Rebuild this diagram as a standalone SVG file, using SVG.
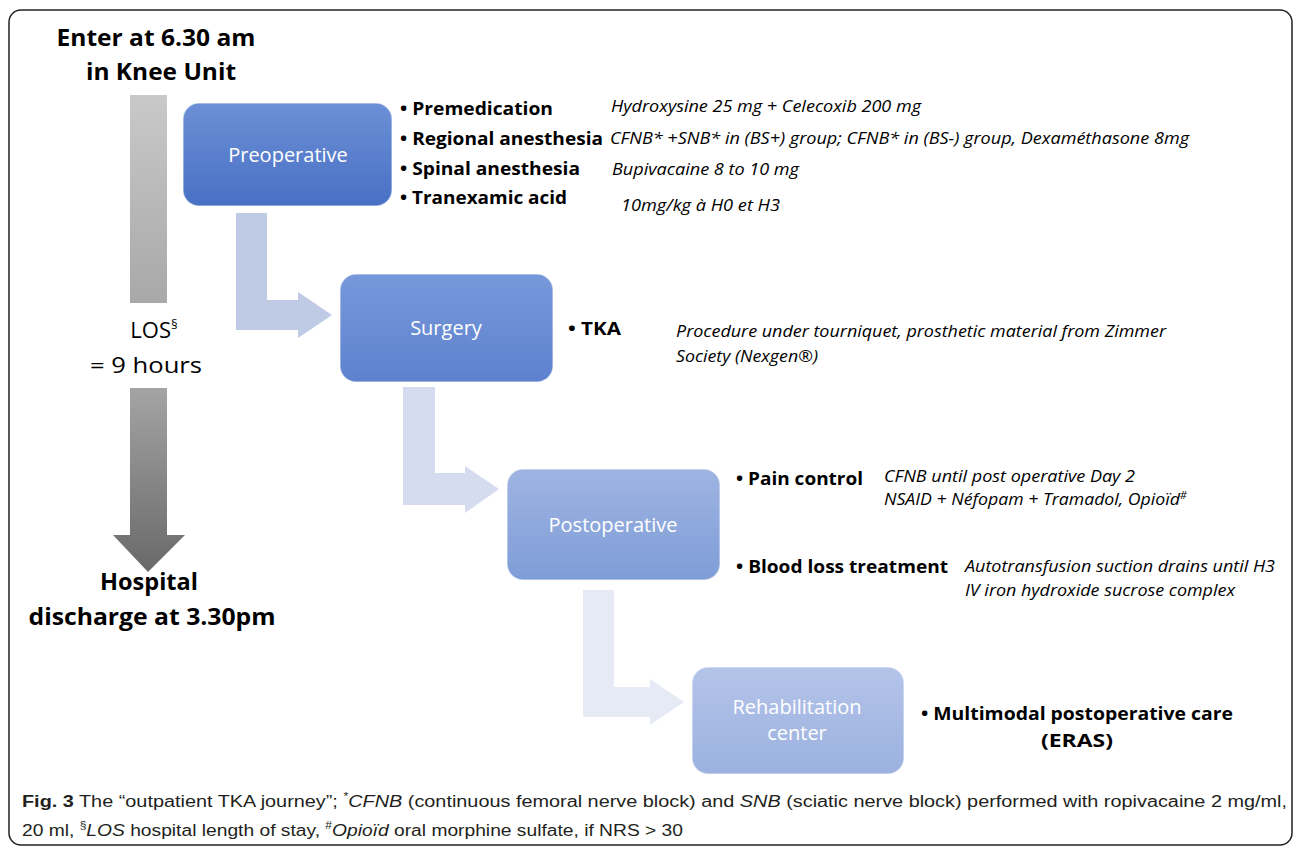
<svg xmlns="http://www.w3.org/2000/svg" width="1293" height="847" viewBox="0 0 1293 847">
<defs>
<linearGradient id="gPre" x1="0" y1="0" x2="0" y2="1"><stop offset="0" stop-color="#6c90d6"/><stop offset="1" stop-color="#4870c4"/></linearGradient>
<linearGradient id="gSur" x1="0" y1="0" x2="0" y2="1"><stop offset="0" stop-color="#7799db"/><stop offset="1" stop-color="#5d81ce"/></linearGradient>
<linearGradient id="gPost" x1="0" y1="0" x2="0" y2="1"><stop offset="0" stop-color="#9fb4e2"/><stop offset="1" stop-color="#7e9dd7"/></linearGradient>
<linearGradient id="gReh" x1="0" y1="0" x2="0" y2="1"><stop offset="0" stop-color="#b4c4e9"/><stop offset="1" stop-color="#9bb1df"/></linearGradient>
<linearGradient id="gBar" x1="0" y1="0" x2="0" y2="1"><stop offset="0" stop-color="#c9c9c9"/><stop offset="1" stop-color="#a8a8a8"/></linearGradient>
<linearGradient id="gDown" x1="0" y1="0" x2="0" y2="1"><stop offset="0" stop-color="#a4a4a4"/><stop offset="1" stop-color="#696969"/></linearGradient>
<style>
.box{stroke:#ffffff;stroke-opacity:0.5;stroke-width:1.5}
.lbl{font-family:"Open Sans","Liberation Sans",sans-serif;font-size:20px;fill:#ffffff;text-anchor:middle}
.ttl{font-family:"Open Sans","Liberation Sans",sans-serif;font-size:24px;font-weight:bold;fill:#000;text-anchor:middle}
.los{font-family:"Open Sans","Liberation Sans",sans-serif;font-size:22px;fill:#000;text-anchor:middle}
.b{font-family:"Open Sans","Liberation Sans",sans-serif;font-size:18px;font-weight:bold;fill:#000}
.i{font-family:"Open Sans","Liberation Sans",sans-serif;font-size:16px;font-style:italic;fill:#000}
.cap{font-family:"Liberation Sans",sans-serif;font-size:16px;fill:#231f20}
</style>
</defs>
<rect x="9" y="10" width="1283" height="835" rx="12" fill="#ffffff" stroke="#222" stroke-width="1.5"/>

<g id="timeline">
<rect x="130" y="95" width="37" height="208" fill="url(#gBar)"/>
<path d="M130,388 H167 V535 H185 L148,572 L113,535 H130 Z" fill="url(#gDown)"/>
<text class="ttl" x="156" y="46" textLength="199" lengthAdjust="spacingAndGlyphs">Enter at 6.30 am</text>
<text class="ttl" x="161" y="80" textLength="150" lengthAdjust="spacingAndGlyphs">in Knee Unit</text>
<text class="los" x="154" y="338">LOS<tspan font-size="13" dy="-9">§</tspan></text>
<text class="los" x="146" y="373" textLength="112" lengthAdjust="spacingAndGlyphs">= 9 hours</text>
<text class="ttl" x="149" y="590" textLength="98" lengthAdjust="spacingAndGlyphs">Hospital</text>
<text class="ttl" x="152" y="625" textLength="247" lengthAdjust="spacingAndGlyphs">discharge at 3.30pm</text>
</g>

<g id="connectors">
<path d="M236,213 H267 V300 H298 V292 L332,315 L298,338 V330 H236 Z" fill="#bfcae4"/>
<path d="M403,387 H435 V473 H465 V466 L499,489 L465,513 V505 H403 Z" fill="#d6dcef"/>
<path d="M583,590 H614 V687 H650 V679 L684,702 L650,725 V717 H583 Z" fill="#e6eaf5"/>
</g>

<g id="preoperative">
<rect class="box" x="183" y="103" width="209" height="103" rx="16" fill="url(#gPre)"/>
<text class="lbl" x="288" y="162">Preoperative</text>
<text class="b" x="400" y="115" textLength="153" lengthAdjust="spacingAndGlyphs">• Premedication</text>
<text class="b" x="400" y="145" textLength="203" lengthAdjust="spacingAndGlyphs">• Regional anesthesia</text>
<text class="b" x="400" y="175" textLength="180" lengthAdjust="spacingAndGlyphs">• Spinal anesthesia</text>
<text class="b" x="400" y="204" textLength="167" lengthAdjust="spacingAndGlyphs">• Tranexamic acid</text>
<text class="i" x="611" y="112" textLength="310" lengthAdjust="spacingAndGlyphs">Hydroxysine 25 mg + Celecoxib 200 mg</text>
<text class="i" x="610" y="144" textLength="579" lengthAdjust="spacingAndGlyphs">CFNB* +SNB* in (BS+) group; CFNB* in (BS-) group, Dexaméthasone 8mg</text>
<text class="i" x="612" y="175" textLength="187" lengthAdjust="spacingAndGlyphs">Bupivacaine 8 to 10 mg</text>
<text class="i" x="621" y="211" textLength="159" lengthAdjust="spacingAndGlyphs">10mg/kg à H0 et H3</text>
</g>

<g id="surgery">
<rect class="box" x="340" y="274" width="213" height="108" rx="16" fill="url(#gSur)"/>
<text class="lbl" x="446" y="335">Surgery</text>
<text class="b" x="568" y="335" textLength="53" lengthAdjust="spacingAndGlyphs">• TKA</text>
<text class="i" x="676" y="337" textLength="490" lengthAdjust="spacingAndGlyphs">Procedure under tourniquet, prosthetic material from Zimmer</text>
<text class="i" x="676" y="362" textLength="142" lengthAdjust="spacingAndGlyphs">Society (Nexgen®)</text>
</g>

<g id="postoperative">
<rect class="box" x="507" y="469" width="213" height="111" rx="16" fill="url(#gPost)"/>
<text class="lbl" x="613" y="532">Postoperative</text>
<text class="b" x="736" y="485" textLength="127" lengthAdjust="spacingAndGlyphs">• Pain control</text>
<text class="i" x="884" y="482" textLength="251" lengthAdjust="spacingAndGlyphs">CFNB until post operative Day 2</text>
<text class="i" x="884" y="505" textLength="303" lengthAdjust="spacingAndGlyphs">NSAID + Néfopam + Tramadol, Opioïd<tspan font-size="10" dy="-6">#</tspan></text>
<text class="b" x="736" y="573" textLength="212" lengthAdjust="spacingAndGlyphs">• Blood loss treatment</text>
<text class="i" x="965" y="572" textLength="310" lengthAdjust="spacingAndGlyphs">Autotransfusion suction drains until H3</text>
<text class="i" x="965" y="596" textLength="270" lengthAdjust="spacingAndGlyphs">IV iron hydroxide sucrose complex</text>
</g>

<g id="rehabilitation">
<rect class="box" x="692" y="667" width="212" height="107" rx="16" fill="url(#gReh)"/>
<text class="lbl" x="797" y="714">Rehabilitation</text>
<text class="lbl" x="797" y="740">center</text>
<text class="b" x="921" y="720" font-size="19" textLength="312" lengthAdjust="spacingAndGlyphs">•  Multimodal postoperative care</text>
<text class="b" x="1041" y="747" font-size="19" textLength="72" lengthAdjust="spacingAndGlyphs">(ERAS)</text>
</g>

<g id="caption">
<text class="cap" x="22" y="807" textLength="1265" lengthAdjust="spacingAndGlyphs"><tspan font-weight="bold">Fig. 3</tspan> The “outpatient TKA journey”; <tspan font-size="10" dy="-7">*</tspan><tspan font-style="italic" dy="7">CFNB</tspan> (continuous femoral nerve block) and <tspan font-style="italic">SNB</tspan> (sciatic nerve block) performed with ropivacaine 2 mg/ml,</text>
<text class="cap" x="22" y="836" textLength="661" lengthAdjust="spacingAndGlyphs">20 ml, <tspan font-size="10" dy="-7">§</tspan><tspan font-style="italic" dy="7">LOS</tspan> hospital length of stay, <tspan font-size="10" dy="-7">#</tspan><tspan font-style="italic" dy="7">Opioïd</tspan> oral morphine sulfate, if NRS &gt; 30</text>
</g>
</svg>
